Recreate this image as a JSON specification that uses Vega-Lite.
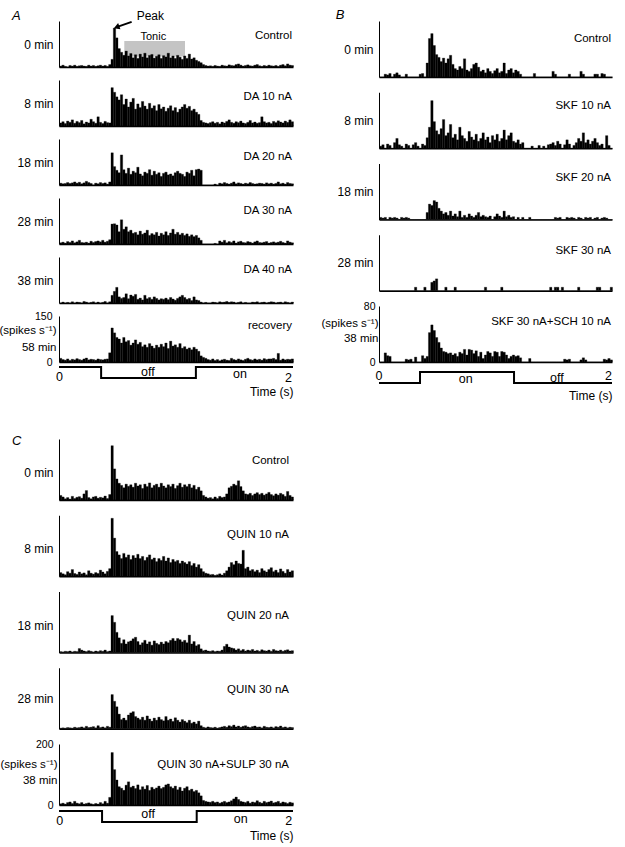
{
"$schema":"https://vega.github.io/schema/vega-lite/v6.json",
"padding":{"left":-2,"top":8,"right":5,"bottom":5},
"config":{
 "font":"Liberation Sans",
 "view":{"stroke":null},
 "axis":{"grid":false,"ticks":false,"tickSize":0,"labels":false,"domainColor":"black","domainWidth":1,"titleFontWeight":"normal","titleFontSize":12,"titleColor":"black","labelColor":"black","labelFontSize":10.5,"labelFlush":false},
 "axisY":{"titleAngle":0,"titleAlign":"right","titleBaseline":"middle","titleX":-6},
 "text":{"fontSize":11.5,"color":"black","baseline":"middle"}
},
"data":{"values":[
{"t":0.01,"a1":3,"a2":10,"a3":6,"a4":4,"a5":0,"a6":12,"b1":0,"b2":3,"b3":3,"b4":0,"b5":0,"c1":15,"c2":12,"c3":3,"c4":2,"c5":4},
{"t":0.03,"a1":6,"a2":14,"a3":4,"a4":6,"a5":3,"a6":8,"b1":0,"b2":5,"b3":2,"b4":0,"b5":0,"c1":10,"c2":8,"c3":2,"c4":3,"c5":6},
{"t":0.05,"a1":2,"a2":8,"a3":5,"a4":3,"a5":0,"a6":6,"b1":4,"b2":0,"b3":3,"b4":0,"b5":13,"c1":4,"c2":5,"c3":4,"c4":2,"c5":3},
{"t":0.07,"a1":0,"a2":16,"a3":8,"a4":8,"a5":2,"a6":10,"b1":3,"b2":6,"b3":0,"b4":0,"b5":9,"c1":8,"c2":15,"c3":3,"c4":4,"c5":8},
{"t":0.09,"a1":5,"a2":12,"a3":5,"a4":5,"a5":0,"a6":5,"b1":5,"b2":4,"b3":3,"b4":0,"b5":8,"c1":3,"c2":10,"c3":5,"c4":3,"c5":10},
{"t":0.11,"a1":3,"a2":20,"a3":7,"a4":10,"a5":4,"a6":9,"b1":0,"b2":0,"b3":2,"b4":0,"b5":0,"c1":12,"c2":22,"c3":2,"c4":2,"c5":5},
{"t":0.13,"a1":6,"a2":9,"a3":10,"a4":4,"a5":0,"a6":7,"b1":4,"b2":8,"b3":3,"b4":0,"b5":0,"c1":5,"c2":9,"c3":4,"c4":5,"c5":12},
{"t":0.15,"a1":2,"a2":15,"a3":6,"a4":7,"a5":3,"a6":11,"b1":6,"b2":14,"b3":2,"b4":0,"b5":0,"c1":9,"c2":6,"c3":3,"c4":3,"c5":6},
{"t":0.17,"a1":4,"a2":11,"a3":9,"a4":12,"a5":2,"a6":8,"b1":3,"b2":5,"b3":0,"b4":0,"b5":0,"c1":11,"c2":14,"c3":13,"c4":4,"c5":4},
{"t":0.19,"a1":5,"a2":18,"a3":4,"a4":5,"a5":0,"a6":6,"b1":0,"b2":3,"b3":3,"b4":0,"b5":0,"c1":6,"c2":8,"c3":8,"c4":6,"c5":8},
{"t":0.21,"a1":3,"a2":7,"a3":7,"a4":4,"a5":5,"a6":10,"b1":0,"b2":0,"b3":2,"b4":0,"b5":0,"c1":20,"c2":11,"c3":5,"c4":3,"c5":3},
{"t":0.23,"a1":2,"a2":13,"a3":12,"a4":6,"a5":3,"a6":13,"b1":4,"b2":6,"b3":3,"b4":0,"b5":4,"c1":31,"c2":5,"c3":3,"c4":8,"c5":5},
{"t":0.25,"a1":6,"a2":10,"a3":8,"a4":3,"a5":0,"a6":7,"b1":0,"b2":4,"b3":2,"b4":0,"b5":3,"c1":8,"c2":18,"c3":6,"c4":4,"c5":7},
{"t":0.27,"a1":3,"a2":22,"a3":5,"a4":9,"a5":2,"a6":9,"b1":0,"b2":0,"b3":0,"b4":0,"b5":4,"c1":4,"c2":10,"c3":4,"c4":5,"c5":4},
{"t":0.29,"a1":5,"a2":14,"a3":0,"a4":5,"a5":4,"a6":8,"b1":0,"b2":5,"b3":0,"b4":0,"b5":0,"c1":10,"c2":7,"c3":2,"c4":7,"c5":2},
{"t":0.31,"a1":2,"a2":9,"a3":6,"a4":8,"a5":0,"a6":6,"b1":0,"b2":8,"b3":0,"b4":5,"b5":7,"c1":12,"c2":12,"c3":5,"c4":3,"c5":5},
{"t":0.33,"a1":4,"a2":30,"a3":4,"a4":10,"a5":3,"a6":10,"b1":0,"b2":3,"b3":0,"b4":0,"b5":0,"c1":6,"c2":9,"c3":3,"c4":10,"c5":3},
{"t":0.35,"a1":6,"a2":12,"a3":8,"a4":7,"a5":0,"a6":8,"b1":4,"b2":0,"b3":0,"b4":0,"b5":0,"c1":9,"c2":20,"c3":6,"c4":4,"c5":8},
{"t":0.37,"a1":3,"a2":8,"a3":5,"a4":12,"a5":2,"a6":7,"b1":5,"b2":6,"b3":0,"b4":0,"b5":9,"c1":7,"c2":14,"c3":4,"c4":6,"c5":4},
{"t":0.39,"a1":5,"a2":15,"a3":7,"a4":6,"a5":5,"a6":9,"b1":0,"b2":4,"b3":0,"b4":5,"b5":5,"c1":13,"c2":8,"c3":8,"c4":3,"c5":12},
{"t":0.41,"a1":2,"a2":11,"a3":3,"a4":9,"a5":0,"a6":10,"b1":20,"b2":15,"b3":10,"b4":0,"b5":8,"c1":5,"c2":16,"c3":3,"c4":8,"c5":6},
{"t":0.43,"a1":8,"a2":10,"a3":10,"a4":14,"a5":4,"a6":30,"b1":55,"b2":30,"b3":22,"b4":0,"b5":42,"c1":18,"c2":25,"c3":5,"c4":5,"c5":25},
{"t":0.45,"a1":25,"a2":125,"a3":105,"a4":65,"a5":25,"a6":111,"b1":62,"b2":68,"b3":20,"b4":12,"b5":53,"c1":178,"c2":190,"c3":121,"c4":112,"c5":172},
{"t":0.47,"a1":127,"a2":110,"a3":60,"a4":66,"a5":38,"a6":95,"b1":45,"b2":38,"b3":27,"b4":14,"b5":45,"c1":102,"c2":125,"c3":99,"c4":90,"c5":116},
{"t":0.49,"a1":95,"a2":95,"a3":48,"a4":62,"a5":51,"a6":80,"b1":32,"b2":25,"b3":25,"b4":17,"b5":35,"c1":69,"c2":81,"c3":66,"c4":72,"c5":82},
{"t":0.51,"a1":60,"a2":85,"a3":40,"a4":40,"a5":20,"a6":75,"b1":28,"b2":20,"b3":16,"b4":0,"b5":28,"c1":55,"c2":70,"c3":48,"c4":48,"c5":60},
{"t":0.53,"a1":48,"a2":102,"a3":98,"a4":79,"a5":15,"a6":62,"b1":22,"b2":28,"b3":12,"b4":0,"b5":20,"c1":48,"c2":58,"c3":30,"c4":30,"c5":55},
{"t":0.55,"a1":38,"a2":70,"a3":50,"a4":48,"a5":18,"a6":80,"b1":27,"b2":41,"b3":8,"b4":0,"b5":15,"c1":40,"c2":75,"c3":42,"c4":35,"c5":48},
{"t":0.57,"a1":52,"a2":88,"a3":38,"a4":56,"a5":30,"a6":66,"b1":20,"b2":18,"b3":10,"b4":5,"b5":14,"c1":52,"c2":62,"c3":28,"c4":28,"c5":65},
{"t":0.59,"a1":36,"a2":62,"a3":55,"a4":40,"a5":14,"a6":70,"b1":26,"b2":22,"b3":6,"b4":0,"b5":12,"c1":45,"c2":70,"c3":35,"c4":45,"c5":76},
{"t":0.61,"a1":44,"a2":78,"a3":35,"a4":45,"a5":26,"a6":55,"b1":31,"b2":34,"b3":12,"b4":0,"b5":13,"c1":50,"c2":55,"c3":38,"c4":52,"c5":58},
{"t":0.63,"a1":30,"a2":90,"a3":45,"a4":35,"a5":22,"a6":62,"b1":18,"b2":15,"b3":5,"b4":0,"b5":10,"c1":42,"c2":68,"c3":45,"c4":56,"c5":62},
{"t":0.65,"a1":40,"a2":55,"a3":40,"a4":38,"a5":28,"a6":72,"b1":12,"b2":20,"b3":8,"b4":5,"b5":12,"c1":55,"c2":60,"c3":50,"c4":40,"c5":54},
{"t":0.67,"a1":28,"a2":72,"a3":58,"a4":30,"a5":12,"a6":58,"b1":10,"b2":12,"b3":4,"b4":0,"b5":8,"c1":46,"c2":72,"c3":36,"c4":35,"c5":66},
{"t":0.69,"a1":42,"a2":60,"a3":36,"a4":42,"a5":16,"a6":64,"b1":15,"b2":30,"b3":12,"b4":0,"b5":14,"c1":50,"c2":58,"c3":25,"c4":30,"c5":50},
{"t":0.71,"a1":33,"a2":80,"a3":30,"a4":32,"a5":10,"a6":50,"b1":12,"b2":18,"b3":3,"b4":0,"b5":12,"c1":38,"c2":65,"c3":32,"c4":38,"c5":60},
{"t":0.73,"a1":45,"a2":65,"a3":42,"a4":36,"a5":25,"a6":56,"b1":26,"b2":14,"b3":6,"b4":0,"b5":18,"c1":52,"c2":52,"c3":40,"c4":28,"c5":52},
{"t":0.75,"a1":30,"a2":55,"a3":38,"a4":45,"a5":14,"a6":48,"b1":10,"b2":10,"b3":3,"b4":0,"b5":10,"c1":44,"c2":62,"c3":28,"c4":42,"c5":64},
{"t":0.77,"a1":38,"a2":74,"a3":50,"a4":28,"a5":18,"a6":60,"b1":8,"b2":24,"b3":8,"b4":0,"b5":18,"c1":56,"c2":70,"c3":35,"c4":32,"c5":48},
{"t":0.79,"a1":41,"a2":58,"a3":32,"a4":34,"a5":12,"a6":52,"b1":12,"b2":16,"b3":5,"b4":0,"b5":17,"c1":40,"c2":55,"c3":24,"c4":25,"c5":58},
{"t":0.81,"a1":29,"a2":66,"a3":45,"a4":30,"a5":20,"a6":45,"b1":18,"b2":12,"b3":3,"b4":0,"b5":12,"c1":48,"c2":60,"c3":38,"c4":35,"c5":52},
{"t":0.83,"a1":35,"a2":50,"a3":35,"a4":38,"a5":15,"a6":55,"b1":20,"b2":20,"b3":6,"b4":0,"b5":16,"c1":52,"c2":48,"c3":30,"c4":28,"c5":56},
{"t":0.85,"a1":40,"a2":70,"a3":40,"a4":26,"a5":10,"a6":48,"b1":14,"b2":10,"b3":10,"b4":0,"b5":8,"c1":42,"c2":58,"c3":26,"c4":38,"c5":62},
{"t":0.87,"a1":28,"a2":56,"a3":28,"a4":35,"a5":14,"a6":58,"b1":8,"b2":14,"b3":4,"b4":0,"b5":14,"c1":55,"c2":52,"c3":34,"c4":30,"c5":54},
{"t":0.89,"a1":37,"a2":62,"a3":38,"a4":30,"a5":12,"a6":50,"b1":10,"b2":22,"b3":6,"b4":0,"b5":5,"c1":46,"c2":65,"c3":28,"c4":26,"c5":58},
{"t":0.91,"a1":33,"a2":48,"a3":42,"a4":40,"a5":16,"a6":62,"b1":6,"b2":12,"b3":4,"b4":5,"b5":10,"c1":40,"c2":50,"c3":36,"c4":40,"c5":66},
{"t":0.93,"a1":45,"a2":58,"a3":33,"a4":28,"a5":11,"a6":44,"b1":12,"b2":16,"b3":3,"b4":0,"b5":15,"c1":50,"c2":60,"c3":32,"c4":28,"c5":69},
{"t":0.95,"a1":30,"a2":66,"a3":36,"a4":36,"a5":18,"a6":68,"b1":8,"b2":8,"b3":5,"b4":0,"b5":13,"c1":44,"c2":45,"c3":40,"c4":32,"c5":60},
{"t":0.97,"a1":36,"a2":50,"a3":30,"a4":48,"a5":13,"a6":52,"b1":5,"b2":18,"b3":0,"b4":0,"b5":8,"c1":52,"c2":55,"c3":46,"c4":24,"c5":55},
{"t":0.99,"a1":28,"a2":60,"a3":40,"a4":32,"a5":9,"a6":56,"b1":9,"b2":12,"b3":4,"b4":0,"b5":15,"c1":38,"c2":48,"c3":38,"c4":36,"c5":62},
{"t":1.01,"a1":38,"a2":45,"a3":45,"a4":38,"a5":15,"a6":48,"b1":12,"b2":20,"b3":8,"b4":0,"b5":14,"c1":47,"c2":52,"c3":46,"c4":28,"c5":50},
{"t":1.03,"a1":32,"a2":55,"a3":38,"a4":30,"a5":20,"a6":60,"b1":6,"b2":10,"b3":5,"b4":0,"b5":8,"c1":55,"c2":42,"c3":42,"c4":22,"c5":58},
{"t":1.05,"a1":25,"a2":62,"a3":35,"a4":35,"a5":25,"a6":45,"b1":8,"b2":14,"b3":3,"b4":5,"b5":15,"c1":42,"c2":50,"c3":35,"c4":30,"c5":46},
{"t":1.07,"a1":36,"a2":70,"a3":28,"a4":28,"a5":18,"a6":50,"b1":20,"b2":26,"b3":12,"b4":0,"b5":14,"c1":50,"c2":45,"c3":40,"c4":25,"c5":55},
{"t":1.09,"a1":28,"a2":58,"a3":42,"a4":33,"a5":12,"a6":42,"b1":5,"b2":12,"b3":4,"b4":0,"b5":10,"c1":44,"c2":40,"c3":32,"c4":20,"c5":60},
{"t":1.11,"a1":42,"a2":64,"a3":38,"a4":25,"a5":15,"a6":46,"b1":10,"b2":18,"b3":6,"b4":0,"b5":5,"c1":52,"c2":48,"c3":57,"c4":28,"c5":48},
{"t":1.13,"a1":26,"a2":50,"a3":48,"a4":30,"a5":8,"a6":40,"b1":12,"b2":22,"b3":3,"b4":0,"b5":8,"c1":40,"c2":35,"c3":28,"c4":18,"c5":52},
{"t":1.15,"a1":30,"a2":55,"a3":30,"a4":24,"a5":20,"a6":48,"b1":6,"b2":10,"b3":4,"b4":0,"b5":10,"c1":48,"c2":42,"c3":36,"c4":22,"c5":44},
{"t":1.17,"a1":22,"a2":45,"a3":50,"a4":28,"a5":10,"a6":42,"b1":10,"b2":8,"b3":0,"b4":0,"b5":8,"c1":35,"c2":30,"c3":22,"c4":16,"c5":48},
{"t":1.19,"a1":18,"a2":38,"a3":52,"a4":20,"a5":8,"a6":35,"b1":8,"b2":12,"b3":3,"b4":0,"b5":9,"c1":42,"c2":38,"c3":26,"c4":25,"c5":40},
{"t":1.21,"a1":14,"a2":18,"a3":48,"a4":12,"a5":3,"a6":20,"b1":4,"b2":6,"b3":0,"b4":0,"b5":6,"c1":30,"c2":25,"c3":12,"c4":10,"c5":30},
{"t":1.23,"a1":8,"a2":12,"a3":0,"a4":0,"a5":0,"a6":15,"b1":0,"b2":8,"b3":3,"b4":0,"b5":0,"c1":15,"c2":15,"c3":6,"c4":5,"c5":15},
{"t":1.25,"a1":5,"a2":10,"a3":0,"a4":0,"a5":2,"a6":12,"b1":0,"b2":0,"b3":0,"b4":0,"b5":0,"c1":10,"c2":10,"c3":8,"c4":3,"c5":12},
{"t":1.27,"a1":3,"a2":8,"a3":0,"a4":0,"a5":0,"a6":8,"b1":0,"b2":0,"b3":0,"b4":0,"b5":0,"c1":6,"c2":8,"c3":5,"c4":6,"c5":10},
{"t":1.29,"a1":4,"a2":11,"a3":0,"a4":0,"a5":0,"a6":6,"b1":0,"b2":0,"b3":3,"b4":0,"b5":5,"c1":8,"c2":5,"c3":4,"c4":4,"c5":9},
{"t":1.31,"a1":2,"a2":14,"a3":0,"a4":0,"a5":3,"a6":10,"b1":0,"b2":3,"b3":0,"b4":0,"b5":0,"c1":4,"c2":6,"c3":6,"c4":3,"c5":12},
{"t":1.33,"a1":5,"a2":9,"a3":3,"a4":2,"a5":2,"a6":5,"b1":5,"b2":0,"b3":0,"b4":0,"b5":0,"c1":10,"c2":3,"c3":3,"c4":5,"c5":8},
{"t":1.35,"a1":3,"a2":12,"a3":0,"a4":0,"a5":0,"a6":8,"b1":0,"b2":0,"b3":0,"b4":0,"b5":0,"c1":5,"c2":5,"c3":5,"c4":2,"c5":10},
{"t":1.37,"a1":2,"a2":7,"a3":6,"a4":10,"a5":4,"a6":4,"b1":0,"b2":4,"b3":0,"b4":0,"b5":0,"c1":12,"c2":8,"c3":4,"c4":4,"c5":6},
{"t":1.39,"a1":6,"a2":13,"a3":4,"a4":6,"a5":2,"a6":7,"b1":0,"b2":0,"b3":0,"b4":0,"b5":0,"c1":8,"c2":4,"c3":8,"c4":6,"c5":9},
{"t":1.41,"a1":4,"a2":10,"a3":8,"a4":12,"a5":3,"a6":9,"b1":0,"b2":3,"b3":0,"b4":0,"b5":0,"c1":10,"c2":10,"c3":20,"c4":8,"c5":12},
{"t":1.43,"a1":3,"a2":15,"a3":5,"a4":4,"a5":5,"a6":6,"b1":0,"b2":0,"b3":0,"b4":0,"b5":0,"c1":20,"c2":18,"c3":27,"c4":5,"c5":8},
{"t":1.45,"a1":7,"a2":20,"a3":3,"a4":8,"a5":2,"a6":5,"b1":0,"b2":5,"b3":0,"b4":0,"b5":0,"c1":40,"c2":30,"c3":18,"c4":10,"c5":10},
{"t":1.47,"a1":5,"a2":12,"a3":6,"a4":5,"a5":4,"a6":12,"b1":0,"b2":6,"b3":0,"b4":5,"b5":0,"c1":45,"c2":45,"c3":15,"c4":7,"c5":14},
{"t":1.49,"a1":4,"a2":9,"a3":10,"a4":10,"a5":3,"a6":8,"b1":8,"b2":8,"b3":0,"b4":0,"b5":0,"c1":52,"c2":38,"c3":13,"c4":12,"c5":20},
{"t":1.51,"a1":8,"a2":14,"a3":4,"a4":3,"a5":0,"a6":6,"b1":4,"b2":4,"b3":3,"b4":5,"b5":0,"c1":48,"c2":50,"c3":8,"c4":6,"c5":26},
{"t":1.53,"a1":10,"a2":11,"a3":7,"a4":7,"a5":2,"a6":10,"b1":0,"b2":10,"b3":2,"b4":5,"b5":0,"c1":63,"c2":42,"c3":12,"c4":9,"c5":18},
{"t":1.55,"a1":6,"a2":16,"a3":5,"a4":9,"a5":4,"a6":7,"b1":0,"b2":6,"b3":3,"b4":0,"b5":0,"c1":44,"c2":40,"c3":6,"c4":5,"c5":12},
{"t":1.57,"a1":3,"a2":10,"a3":3,"a4":5,"a5":0,"a6":5,"b1":0,"b2":0,"b3":0,"b4":5,"b5":0,"c1":30,"c2":85,"c3":10,"c4":8,"c5":10},
{"t":1.59,"a1":5,"a2":8,"a3":6,"a4":4,"a5":2,"a6":9,"b1":0,"b2":5,"b3":0,"b4":0,"b5":4,"c1":20,"c2":25,"c3":5,"c4":10,"c5":8},
{"t":1.61,"a1":7,"a2":12,"a3":4,"a4":8,"a5":0,"a6":12,"b1":0,"b2":12,"b3":3,"b4":0,"b5":3,"c1":18,"c2":30,"c3":8,"c4":6,"c5":12},
{"t":1.63,"a1":4,"a2":18,"a3":8,"a4":6,"a5":0,"a6":8,"b1":4,"b2":6,"b3":2,"b4":0,"b5":4,"c1":22,"c2":18,"c3":6,"c4":4,"c5":6},
{"t":1.65,"a1":3,"a2":10,"a3":5,"a4":3,"a5":3,"a6":6,"b1":0,"b2":0,"b3":3,"b4":0,"b5":0,"c1":15,"c2":22,"c3":10,"c4":7,"c5":10},
{"t":1.67,"a1":6,"a2":13,"a3":3,"a4":7,"a5":2,"a6":10,"b1":0,"b2":4,"b3":2,"b4":0,"b5":0,"c1":20,"c2":15,"c3":5,"c4":9,"c5":8},
{"t":1.69,"a1":8,"a2":9,"a3":4,"a4":10,"a5":4,"a6":7,"b1":0,"b2":8,"b3":0,"b4":0,"b5":0,"c1":24,"c2":20,"c3":7,"c4":5,"c5":14},
{"t":1.71,"a1":4,"a2":11,"a3":6,"a4":5,"a5":0,"a6":9,"b1":0,"b2":14,"b3":3,"b4":5,"b5":0,"c1":18,"c2":12,"c3":4,"c4":6,"c5":9},
{"t":1.73,"a1":2,"a2":30,"a3":5,"a4":4,"a5":2,"a6":6,"b1":8,"b2":10,"b3":2,"b4":0,"b5":3,"c1":22,"c2":25,"c3":9,"c4":3,"c5":6},
{"t":1.75,"a1":5,"a2":14,"a3":3,"a4":6,"a5":3,"a6":11,"b1":4,"b2":22,"b3":0,"b4":0,"b5":6,"c1":16,"c2":18,"c3":6,"c4":8,"c5":12},
{"t":1.77,"a1":3,"a2":10,"a3":7,"a4":8,"a5":0,"a6":8,"b1":0,"b2":8,"b3":3,"b4":0,"b5":3,"c1":20,"c2":14,"c3":5,"c4":5,"c5":8},
{"t":1.79,"a1":6,"a2":12,"a3":4,"a4":3,"a5":2,"a6":10,"b1":0,"b2":12,"b3":2,"b4":0,"b5":0,"c1":25,"c2":22,"c3":8,"c4":4,"c5":10},
{"t":1.81,"a1":4,"a2":8,"a3":6,"a4":5,"a5":4,"a6":10,"b1":0,"b2":6,"b3":3,"b4":0,"b5":0,"c1":18,"c2":28,"c3":4,"c4":6,"c5":13},
{"t":1.83,"a1":3,"a2":15,"a3":3,"a4":7,"a5":3,"a6":12,"b1":0,"b2":10,"b3":0,"b4":0,"b5":0,"c1":14,"c2":15,"c3":10,"c4":3,"c5":7},
{"t":1.85,"a1":5,"a2":11,"a3":5,"a4":4,"a5":0,"a6":8,"b1":4,"b2":14,"b3":2,"b4":0,"b5":0,"c1":20,"c2":20,"c3":6,"c4":7,"c5":9},
{"t":1.87,"a1":2,"a2":17,"a3":10,"a4":6,"a5":2,"a6":28,"b1":4,"b2":8,"b3":3,"b4":5,"b5":0,"c1":16,"c2":12,"c3":5,"c4":5,"c5":12},
{"t":1.89,"a1":6,"a2":13,"a3":4,"a4":9,"a5":3,"a6":6,"b1":0,"b2":4,"b3":0,"b4":5,"b5":0,"c1":22,"c2":24,"c3":8,"c4":9,"c5":6},
{"t":1.91,"a1":8,"a2":10,"a3":6,"a4":5,"a5":0,"a6":10,"b1":5,"b2":6,"b3":2,"b4":0,"b5":0,"c1":18,"c2":16,"c3":4,"c4":4,"c5":10},
{"t":1.93,"a1":4,"a2":16,"a3":3,"a4":3,"a5":4,"a6":7,"b1":4,"b2":0,"b3":3,"b4":0,"b5":4,"c1":12,"c2":10,"c3":7,"c4":6,"c5":8},
{"t":1.95,"a1":10,"a2":12,"a3":8,"a4":10,"a5":2,"a6":9,"b1":0,"b2":18,"b3":2,"b4":0,"b5":3,"c1":28,"c2":22,"c3":9,"c4":3,"c5":5},
{"t":1.97,"a1":6,"a2":20,"a3":5,"a4":6,"a5":0,"a6":8,"b1":0,"b2":4,"b3":0,"b4":0,"b5":5,"c1":15,"c2":14,"c3":5,"c4":5,"c5":9},
{"t":1.99,"a1":5,"a2":14,"a3":4,"a4":4,"a5":3,"a6":10,"b1":0,"b2":0,"b3":0,"b4":5,"b5":3,"c1":10,"c2":18,"c3":6,"c4":4,"c5":7}
]},
"vconcat":[
{"hconcat":[
{"vconcat":[
{"width":234,"height":46,"layer":[
 {"data":{"values":[{"x1":0.558,"x2":1.077,"y1":34,"y2":85}]},"mark":{"type":"rect","color":"#c4c4c4"},"encoding":{"x":{"field":"x1","type":"quantitative"},"x2":{"field":"x2"},"y":{"field":"y1","type":"quantitative"},"y2":{"field":"y2"}}},
 {"mark":{"type":"bar","color":"black","binSpacing":0,"stroke":"black","strokeWidth":0.3},"encoding":{"x":{"field":"t","type":"quantitative","bin":{"step":0.02,"extent":[0,2]},"scale":{"domain":[0,2],"nice":false},"axis":{"title":null,"domainWidth":1.3}},"y":{"field":"a1","type":"quantitative","scale":{"domain":[0,150],"nice":false},"axis":{"title":"0 min","titleY":23}}}},
 {"data":{"values":[{"label":"Control"}]},"mark":{"type":"text","align":"right","dx":-1},"encoding":{"x":{"datum":2,"type":"quantitative"},"y":{"datum":101,"type":"quantitative"},"text":{"field":"label"}}},
 {"data":{"values":[{"label":"A"}]},"mark":{"type":"text","fontSize":13,"fontStyle":"italic"},"encoding":{"x":{"datum":-0.365,"type":"quantitative"},"y":{"datum":167,"type":"quantitative"},"text":{"field":"label"}}},
 {"data":{"values":[{"label":"Peak"}]},"mark":{"type":"text","align":"left","fontSize":12},"encoding":{"x":{"datum":0.664,"type":"quantitative"},"y":{"datum":166,"type":"quantitative"},"text":{"field":"label"}}},
 {"data":{"values":[{"label":"Tonic"}]},"mark":{"type":"text","align":"center","fontSize":11},"encoding":{"x":{"datum":0.806,"type":"quantitative"},"y":{"datum":98,"type":"quantitative"},"text":{"field":"label"}}},
 {"data":{"values":[{"t":0.621,"v":147},{"t":0.492,"v":130}]},"mark":{"type":"line","color":"black","strokeWidth":2},"encoding":{"x":{"field":"t","type":"quantitative"},"y":{"field":"v","type":"quantitative"}}},
 {"data":{"values":[{"t":0.492,"v":130}]},"mark":{"type":"point","shape":"triangle-up","angle":250,"size":45,"filled":true,"color":"black","opacity":1},"encoding":{"x":{"field":"t","type":"quantitative"},"y":{"field":"v","type":"quantitative"}}}
]},
{"width":234,"height":46,"layer":[
 {"mark":{"type":"bar","color":"black","binSpacing":0,"stroke":"black","strokeWidth":0.3},"encoding":{"x":{"field":"t","type":"quantitative","bin":{"step":0.02,"extent":[0,2]},"scale":{"domain":[0,2],"nice":false},"axis":{"title":null,"domainWidth":1.3}},"y":{"field":"a2","type":"quantitative","scale":{"domain":[0,150],"nice":false},"axis":{"title":"8 min","titleY":23}}}},
 {"data":{"values":[{"label":"DA 10 nA"}]},"mark":{"type":"text","align":"right","dx":-1},"encoding":{"x":{"datum":2,"type":"quantitative"},"y":{"datum":95,"type":"quantitative"},"text":{"field":"label"}}}
]},
{"width":234,"height":46,"layer":[
 {"mark":{"type":"bar","color":"black","binSpacing":0,"stroke":"black","strokeWidth":0.3},"encoding":{"x":{"field":"t","type":"quantitative","bin":{"step":0.02,"extent":[0,2]},"scale":{"domain":[0,2],"nice":false},"axis":{"title":null,"domainWidth":1.3}},"y":{"field":"a3","type":"quantitative","scale":{"domain":[0,150],"nice":false},"axis":{"title":"18 min","titleY":23}}}},
 {"data":{"values":[{"label":"DA 20 nA"}]},"mark":{"type":"text","align":"right","dx":-1},"encoding":{"x":{"datum":2,"type":"quantitative"},"y":{"datum":91,"type":"quantitative"},"text":{"field":"label"}}}
]},
{"width":234,"height":46,"layer":[
 {"mark":{"type":"bar","color":"black","binSpacing":0,"stroke":"black","strokeWidth":0.3},"encoding":{"x":{"field":"t","type":"quantitative","bin":{"step":0.02,"extent":[0,2]},"scale":{"domain":[0,2],"nice":false},"axis":{"title":null,"domainWidth":1.3}},"y":{"field":"a4","type":"quantitative","scale":{"domain":[0,150],"nice":false},"axis":{"title":"28 min","titleY":23}}}},
 {"data":{"values":[{"label":"DA 30 nA"}]},"mark":{"type":"text","align":"right","dx":-1},"encoding":{"x":{"datum":2,"type":"quantitative"},"y":{"datum":108,"type":"quantitative"},"text":{"field":"label"}}}
]},
{"width":234,"height":46,"layer":[
 {"mark":{"type":"bar","color":"black","binSpacing":0,"stroke":"black","strokeWidth":0.3},"encoding":{"x":{"field":"t","type":"quantitative","bin":{"step":0.02,"extent":[0,2]},"scale":{"domain":[0,2],"nice":false},"axis":{"title":null,"domainWidth":1.3}},"y":{"field":"a5","type":"quantitative","scale":{"domain":[0,150],"nice":false},"axis":{"title":"38 min","titleY":23}}}},
 {"data":{"values":[{"label":"DA 40 nA"}]},"mark":{"type":"text","align":"right","dx":-1},"encoding":{"x":{"datum":2,"type":"quantitative"},"y":{"datum":108,"type":"quantitative"},"text":{"field":"label"}}}
]},
{"width":234,"height":46,"layer":[
 {"mark":{"type":"bar","color":"black","binSpacing":0,"stroke":"black","strokeWidth":0.3},"encoding":{"x":{"field":"t","type":"quantitative","bin":{"step":0.02,"extent":[0,2]},"scale":{"domain":[0,2],"nice":false},"axis":{"title":null,"domainWidth":1.3}},"y":{"field":"a6","type":"quantitative","scale":{"domain":[0,150],"nice":false},"axis":{"title":["(spikes s⁻¹)","58 min"],"titleX":-3,"titleY":14,"titleLineHeight":17,"titleFontSize":11.5,"labels":true,"values":[0,150],"labelPadding":7}}}},
 {"data":{"values":[{"label":"recovery"}]},"mark":{"type":"text","align":"right","dx":-1},"encoding":{"x":{"datum":2,"type":"quantitative"},"y":{"datum":117,"type":"quantitative"},"text":{"field":"label"}}}
]},
{"width":234,"height":11,"layer":[
 {"data":{"values":[{"t":0,"lv":1},{"t":0.36,"lv":0},{"t":1.17,"lv":1},{"t":2,"lv":1}]},"mark":{"type":"line","interpolate":"step-after","color":"black","strokeWidth":2},"encoding":{"x":{"field":"t","type":"quantitative","scale":{"domain":[0,2],"nice":false},"axis":{"title":"Time (s)","titleAnchor":"end","titlePadding":0,"domain":false}},"y":{"field":"lv","type":"quantitative","scale":{"domain":[-0.727,0.273],"nice":false,"zero":false},"axis":null}}},
 {"data":{"values":[{"t":0.004,"lv":0.09,"label":"0"},{"t":1.962,"lv":0.0,"label":"2"},{"t":0.76,"lv":0.53,"label":"off"},{"t":1.547,"lv":0.36,"label":"on"}]},"mark":{"type":"text","fontSize":12.5},"encoding":{"x":{"field":"t","type":"quantitative"},"y":{"field":"lv","type":"quantitative","axis":null},"text":{"field":"label"}}}
]}
],"spacing":13,"bounds":"flush"},
{"vconcat":[
{"width":233,"height":56,"layer":[
 {"mark":{"type":"bar","color":"black","binSpacing":0,"stroke":"black","strokeWidth":0.3},"encoding":{"x":{"field":"t","type":"quantitative","bin":{"step":0.02,"extent":[0,2]},"scale":{"domain":[0,2],"nice":false},"axis":{"title":null,"domainWidth":1.3}},"y":{"field":"b1","type":"quantitative","scale":{"domain":[0,80],"nice":false},"axis":{"title":"0 min","titleY":28}}}},
 {"data":{"values":[{"label":"Control"}]},"mark":{"type":"text","align":"right","dx":-1},"encoding":{"x":{"datum":2,"type":"quantitative"},"y":{"datum":54,"type":"quantitative"},"text":{"field":"label"}}},
 {"data":{"values":[{"label":"B"}]},"mark":{"type":"text","fontSize":13,"fontStyle":"italic"},"encoding":{"x":{"datum":-0.335,"type":"quantitative"},"y":{"datum":88.6,"type":"quantitative"},"text":{"field":"label"}}}
]},
{"width":233,"height":56,"layer":[
 {"mark":{"type":"bar","color":"black","binSpacing":0,"stroke":"black","strokeWidth":0.3},"encoding":{"x":{"field":"t","type":"quantitative","bin":{"step":0.02,"extent":[0,2]},"scale":{"domain":[0,2],"nice":false},"axis":{"title":null,"domainWidth":1.3}},"y":{"field":"b2","type":"quantitative","scale":{"domain":[0,80],"nice":false},"axis":{"title":"8 min","titleY":28}}}},
 {"data":{"values":[{"label":"SKF 10 nA"}]},"mark":{"type":"text","align":"right","dx":-1},"encoding":{"x":{"datum":2,"type":"quantitative"},"y":{"datum":60,"type":"quantitative"},"text":{"field":"label"}}}
]},
{"width":233,"height":56,"layer":[
 {"mark":{"type":"bar","color":"black","binSpacing":0,"stroke":"black","strokeWidth":0.3},"encoding":{"x":{"field":"t","type":"quantitative","bin":{"step":0.02,"extent":[0,2]},"scale":{"domain":[0,2],"nice":false},"axis":{"title":null,"domainWidth":1.3}},"y":{"field":"b3","type":"quantitative","scale":{"domain":[0,80],"nice":false},"axis":{"title":"18 min","titleY":28}}}},
 {"data":{"values":[{"label":"SKF 20 nA"}]},"mark":{"type":"text","align":"right","dx":-1},"encoding":{"x":{"datum":2,"type":"quantitative"},"y":{"datum":60,"type":"quantitative"},"text":{"field":"label"}}}
]},
{"width":233,"height":56,"layer":[
 {"mark":{"type":"bar","color":"black","binSpacing":0,"stroke":"black","strokeWidth":0.3},"encoding":{"x":{"field":"t","type":"quantitative","bin":{"step":0.02,"extent":[0,2]},"scale":{"domain":[0,2],"nice":false},"axis":{"title":null,"domainWidth":1.3}},"y":{"field":"b4","type":"quantitative","scale":{"domain":[0,80],"nice":false},"axis":{"title":"28 min","titleY":28}}}},
 {"data":{"values":[{"label":"SKF 30 nA"}]},"mark":{"type":"text","align":"right","dx":-1},"encoding":{"x":{"datum":2,"type":"quantitative"},"y":{"datum":57,"type":"quantitative"},"text":{"field":"label"}}}
]},
{"width":233,"height":56,"layer":[
 {"mark":{"type":"bar","color":"black","binSpacing":0,"stroke":"black","strokeWidth":0.3},"encoding":{"x":{"field":"t","type":"quantitative","bin":{"step":0.02,"extent":[0,2]},"scale":{"domain":[0,2],"nice":false},"axis":{"title":null,"domainWidth":1.3}},"y":{"field":"b5","type":"quantitative","scale":{"domain":[0,80],"nice":false},"axis":{"title":["(spikes s⁻¹)","38 min"],"titleX":-1,"titleY":17,"titleLineHeight":15.5,"titleFontSize":11.5,"labels":true,"values":[0,80],"labelPadding":4}}}},
 {"data":{"values":[{"label":"SKF 30 nA+SCH 10 nA"}]},"mark":{"type":"text","align":"right","dx":-1},"encoding":{"x":{"datum":2,"type":"quantitative"},"y":{"datum":57,"type":"quantitative"},"text":{"field":"label"}}}
]},
{"width":233,"height":11,"layer":[
 {"data":{"values":[{"t":0,"lv":0},{"t":0.352,"lv":1},{"t":1.159,"lv":0},{"t":2,"lv":0}]},"mark":{"type":"line","interpolate":"step-after","color":"black","strokeWidth":2},"encoding":{"x":{"field":"t","type":"quantitative","scale":{"domain":[0,2],"nice":false},"axis":{"title":"Time (s)","titleAnchor":"end","titlePadding":1.75,"domain":false}},"y":{"field":"lv","type":"quantitative","scale":{"domain":[-0.477,0.523],"nice":false,"zero":false},"axis":null}}},
 {"data":{"values":[{"t":0.0,"lv":0.64,"label":"0"},{"t":1.97,"lv":0.64,"label":"2"},{"t":0.744,"lv":0.36,"label":"on"},{"t":1.526,"lv":0.5,"label":"off"}]},"mark":{"type":"text","fontSize":12.5},"encoding":{"x":{"field":"t","type":"quantitative"},"y":{"field":"lv","type":"quantitative","axis":null},"text":{"field":"label"}}}
]}
],"spacing":15.25,"bounds":"flush"}
],"spacing":23},
{"vconcat":[
{"width":234,"height":61,"layer":[
 {"mark":{"type":"bar","color":"black","binSpacing":0,"stroke":"black","strokeWidth":0.3},"encoding":{"x":{"field":"t","type":"quantitative","bin":{"step":0.02,"extent":[0,2]},"scale":{"domain":[0,2],"nice":false},"axis":{"title":null,"domainWidth":1.3}},"y":{"field":"c1","type":"quantitative","scale":{"domain":[0,200],"nice":false},"axis":{"title":"0 min","titleY":33.5}}}},
 {"data":{"values":[{"label":"Control"}]},"mark":{"type":"text","align":"right","dx":-4},"encoding":{"x":{"datum":2,"type":"quantitative"},"y":{"datum":128,"type":"quantitative"},"text":{"field":"label"}}},
 {"data":{"values":[{"label":"C"}]},"mark":{"type":"text","fontSize":13,"fontStyle":"italic"},"encoding":{"x":{"datum":-0.361,"type":"quantitative"},"y":{"datum":194.4,"type":"quantitative"},"text":{"field":"label"}}}
]},
{"width":234,"height":61,"layer":[
 {"mark":{"type":"bar","color":"black","binSpacing":0,"stroke":"black","strokeWidth":0.3},"encoding":{"x":{"field":"t","type":"quantitative","bin":{"step":0.02,"extent":[0,2]},"scale":{"domain":[0,2],"nice":false},"axis":{"title":null,"domainWidth":1.3}},"y":{"field":"c2","type":"quantitative","scale":{"domain":[0,200],"nice":false},"axis":{"title":"8 min","titleY":33.5}}}},
 {"data":{"values":[{"label":"QUIN 10 nA"}]},"mark":{"type":"text","align":"right","dx":-4},"encoding":{"x":{"datum":2,"type":"quantitative"},"y":{"datum":134,"type":"quantitative"},"text":{"field":"label"}}}
]},
{"width":234,"height":61,"layer":[
 {"mark":{"type":"bar","color":"black","binSpacing":0,"stroke":"black","strokeWidth":0.3},"encoding":{"x":{"field":"t","type":"quantitative","bin":{"step":0.02,"extent":[0,2]},"scale":{"domain":[0,2],"nice":false},"axis":{"title":null,"domainWidth":1.3}},"y":{"field":"c3","type":"quantitative","scale":{"domain":[0,200],"nice":false},"axis":{"title":"18 min","titleY":33.5}}}},
 {"data":{"values":[{"label":"QUIN 20 nA"}]},"mark":{"type":"text","align":"right","dx":-4},"encoding":{"x":{"datum":2,"type":"quantitative"},"y":{"datum":121,"type":"quantitative"},"text":{"field":"label"}}}
]},
{"width":234,"height":61,"layer":[
 {"mark":{"type":"bar","color":"black","binSpacing":0,"stroke":"black","strokeWidth":0.3},"encoding":{"x":{"field":"t","type":"quantitative","bin":{"step":0.02,"extent":[0,2]},"scale":{"domain":[0,2],"nice":false},"axis":{"title":null,"domainWidth":1.3}},"y":{"field":"c4","type":"quantitative","scale":{"domain":[0,200],"nice":false},"axis":{"title":"28 min","titleY":30.5}}}},
 {"data":{"values":[{"label":"QUIN 30 nA"}]},"mark":{"type":"text","align":"right","dx":-4},"encoding":{"x":{"datum":2,"type":"quantitative"},"y":{"datum":128,"type":"quantitative"},"text":{"field":"label"}}}
]},
{"width":234,"height":61,"layer":[
 {"mark":{"type":"bar","color":"black","binSpacing":0,"stroke":"black","strokeWidth":0.3},"encoding":{"x":{"field":"t","type":"quantitative","bin":{"step":0.02,"extent":[0,2]},"scale":{"domain":[0,2],"nice":false},"axis":{"title":null,"domainWidth":1.3}},"y":{"field":"c5","type":"quantitative","scale":{"domain":[0,200],"nice":false},"axis":{"title":["(spikes s⁻¹)","38 min"],"titleX":-2,"titleY":20,"titleLineHeight":16,"titleFontSize":11.5,"labels":true,"values":[0,200],"labelPadding":6}}}},
 {"data":{"values":[{"label":"QUIN 30 nA+SULP 30 nA"}]},"mark":{"type":"text","align":"right","dx":-4},"encoding":{"x":{"datum":2,"type":"quantitative"},"y":{"datum":131,"type":"quantitative"},"text":{"field":"label"}}}
]},
{"width":234,"height":11,"layer":[
 {"data":{"values":[{"t":0,"lv":1},{"t":0.368,"lv":0},{"t":1.177,"lv":1},{"t":2,"lv":1}]},"mark":{"type":"line","interpolate":"step-after","color":"black","strokeWidth":2},"encoding":{"x":{"field":"t","type":"quantitative","scale":{"domain":[0,2],"nice":false},"axis":{"title":"Time (s)","titleAnchor":"end","titlePadding":-1.25,"domain":false}},"y":{"field":"lv","type":"quantitative","scale":{"domain":[-0.841,0.159],"nice":false,"zero":false},"axis":null}}},
 {"data":{"values":[{"t":0.007,"lv":0.05,"label":"0"},{"t":1.963,"lv":0.12,"label":"2"},{"t":0.761,"lv":0.7,"label":"off"},{"t":1.553,"lv":0.23,"label":"on"}]},"mark":{"type":"text","fontSize":12.5},"encoding":{"x":{"field":"t","type":"quantitative"},"y":{"field":"lv","type":"quantitative","axis":null},"text":{"field":"label"}}}
]}
],"spacing":15.25,"bounds":"flush"}
],
"spacing":33
}
